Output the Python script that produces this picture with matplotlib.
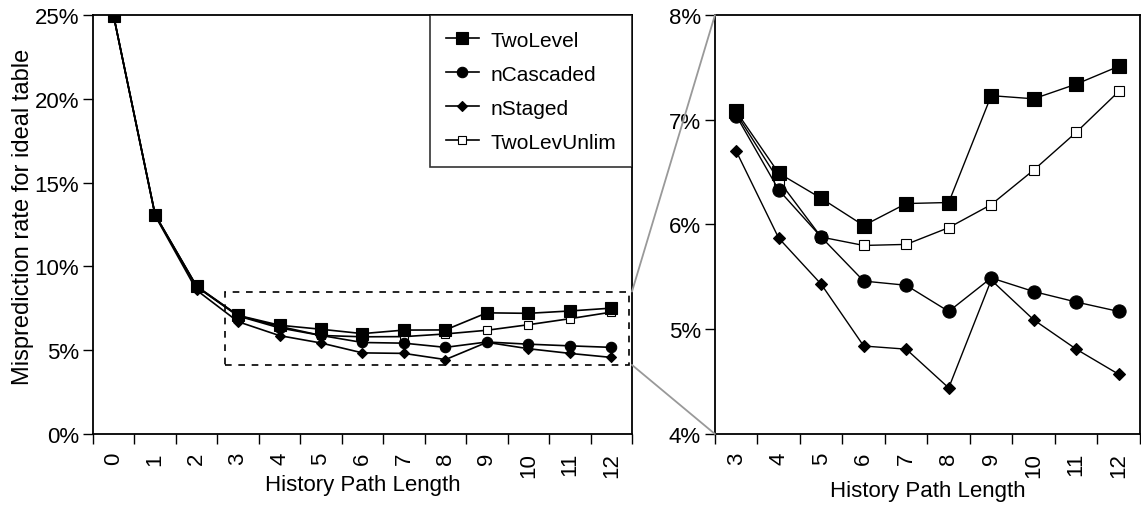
import matplotlib
matplotlib.use("Agg")
import matplotlib.pyplot as plt
from matplotlib.patches import Rectangle, ConnectionPatch
from matplotlib.ticker import FuncFormatter

plt.rcParams['font.family'] = ['Liberation Sans', 'DejaVu Sans']

# history path length 0..12, misprediction rate in %
lengths = list(range(13))
two_level = [24.92, 13.08, 8.82, 7.08, 6.49, 6.25, 5.99, 6.20, 6.21, 7.23, 7.20, 7.34, 7.51]
n_cascaded = [24.92, 13.05, 8.78, 7.04, 6.33, 5.88, 5.46, 5.42, 5.17, 5.49, 5.36, 5.26, 5.17]
n_staged = [24.90, 13.02, 8.58, 6.70, 5.87, 5.43, 4.84, 4.81, 4.44, 5.47, 5.09, 4.81, 4.57]
two_lev_unlim = [24.92, 13.08, 8.80, 7.06, 6.42, 5.88, 5.80, 5.81, 5.97, 6.19, 6.52, 6.88, 7.27]

series = [
    ("TwoLevel", two_level, dict(marker='s', mfc='black')),
    ("nCascaded", n_cascaded, dict(marker='o', mfc='black')),
    ("nStaged", n_staged, dict(marker='D', mfc='black')),
    ("TwoLevUnlim", two_lev_unlim, dict(marker='s', mfc='white')),
]
# marker sizes for left / right panels
msize_left = {'TwoLevel': 8, 'nCascaded': 7.5, 'nStaged': 5.5, 'TwoLevUnlim': 5.5}
msize_right = {'TwoLevel': 10, 'nCascaded': 9.5, 'nStaged': 6.5, 'TwoLevUnlim': 6.5}
layer = {'TwoLevel': 6, 'nCascaded': 5, 'nStaged': 4, 'TwoLevUnlim': 3}

zoom_start = 3
y_left = (0, 25)
y_right = (4, 8)
box_y = (4.12, 8.5)

fig = plt.figure(figsize=(11.41, 5.06), dpi=100)
ax1 = fig.add_axes([0.0815, 0.1403, 0.4724, 0.8281])
ax2 = fig.add_axes([0.6266, 0.1403, 0.3725, 0.8281])

pct = FuncFormatter(lambda v, p: f"{v:.0f}%")


def style_axis(ax, xs, ylim, ystep):
    ax.set_xlim(xs[0] - 0.5, xs[-1] + 0.5)
    ax.set_ylim(*ylim)
    ax.set_xticks([x - 0.5 for x in xs] + [xs[-1] + 0.5])
    ax.set_xticklabels([])
    ax.set_xticks(xs, minor=True)
    ax.set_xticklabels([str(x) for x in xs], minor=True, rotation=90, fontsize=16)
    ax.tick_params(axis='x', which='major', length=7, width=1, direction='out')
    ax.tick_params(axis='x', which='minor', length=0, pad=13)
    ax.set_yticks(range(ylim[0], ylim[1] + 1, ystep))
    ax.yaxis.set_major_formatter(pct)
    ax.tick_params(axis='y', length=7, width=1, labelsize=16, pad=3)
    for s in ax.spines.values():
        s.set_linewidth(1.3)
    ax.set_xlabel("History Path Length", fontsize=16, va='top')


for name, vals, st in series:
    ax1.plot(lengths, vals, color='black', lw=1.2, ms=msize_left[name],
             mec='black', mew=0.8, label=name, zorder=layer[name], **st)
    ax2.plot(lengths[zoom_start:], vals[zoom_start:], color='black', lw=1.0,
             ms=msize_right[name], mec='black', mew=0.8, zorder=layer[name], **st)

style_axis(ax1, lengths, y_left, 5)
style_axis(ax2, lengths[zoom_start:], y_right, 1)
ax1.set_ylabel("Misprediction rate for ideal table", fontsize=17)
ax1.yaxis.set_label_coords(-0.11, 0.52)
ax1.xaxis.set_label_coords(0.5, -0.095)
ax2.xaxis.set_label_coords(0.5, -0.11)

leg = ax1.legend(loc='upper right', fontsize=15, frameon=True, fancybox=False,
                 edgecolor='black', borderaxespad=0, labelspacing=0.72,
                 handlelength=1.6, borderpad=0.75, handletextpad=0.55)
leg.get_frame().set_linewidth(1.2)
leg.set_zorder(10)

# dashed zoom box
ax1.add_patch(Rectangle((2.68, box_y[0]), 12.42 - 2.68, box_y[1] - box_y[0],
                        fill=False, ls=(0, (4, 4)), lw=1.2, ec='black', zorder=2))

for yl, yr in [(box_y[1], y_right[1]), (box_y[0], y_right[0])]:
    con = ConnectionPatch(xyA=(12.5, yl), coordsA=ax1.transData,
                          xyB=(zoom_start - 0.5, yr), coordsB=ax2.transData,
                          color='#999999', lw=1.3)
    fig.add_artist(con)

fig.savefig("out.png", dpi=100)
